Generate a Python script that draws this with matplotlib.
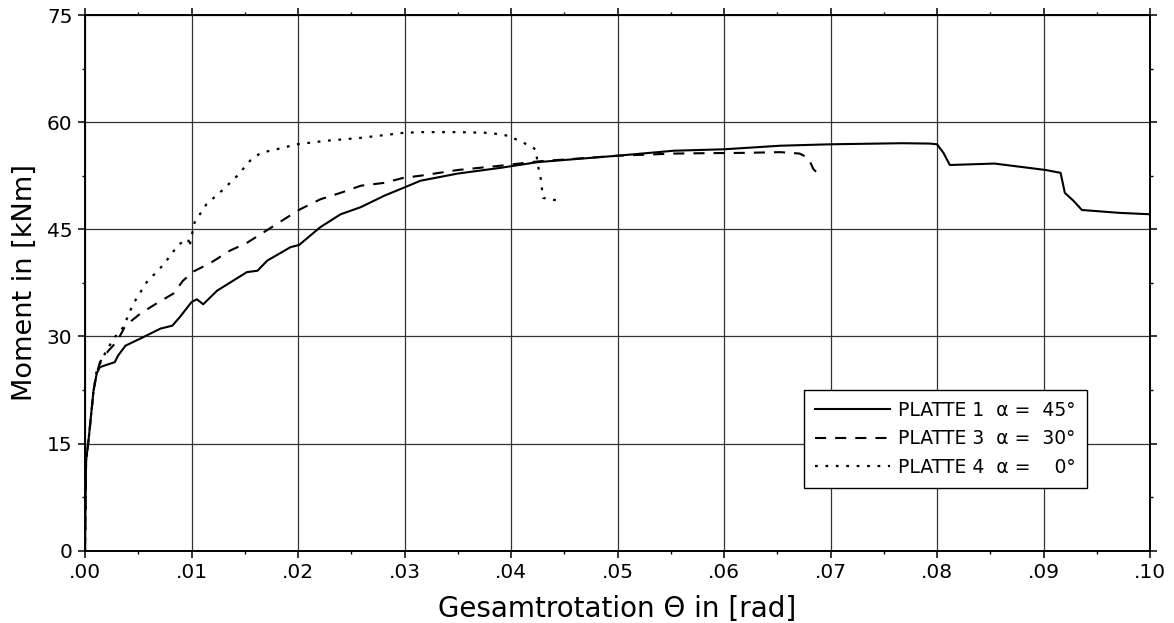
import matplotlib
matplotlib.use("Agg")
import matplotlib.pyplot as plt
from matplotlib.ticker import MultipleLocator, FuncFormatter

# ---- data ----
p1_x = [0, 0.0001, 0.0003, 0.0008, 0.0011, 0.0014, 0.0028, 0.0031, 0.0038, 0.0052, 0.0071,
        0.0082, 0.0089, 0.0100, 0.0105, 0.0111, 0.0124, 0.0152, 0.0162, 0.0171, 0.0193,
        0.0201, 0.0221, 0.0240, 0.0259, 0.0281, 0.0299, 0.0315, 0.0350, 0.0390, 0.0425,
        0.0500, 0.0553, 0.0600, 0.0653, 0.0700, 0.0767, 0.0793, 0.0800, 0.0806, 0.0812,
        0.0854, 0.0902, 0.0916, 0.0920, 0.0928, 0.0936, 0.0971, 0.1000]
p1_y = [0, 12.6, 15.0, 22.4, 24.8, 25.7, 26.4, 27.3, 28.7, 29.7, 31.1,
        31.5, 32.7, 34.8, 35.2, 34.5, 36.4, 39.0, 39.2, 40.6, 42.5,
        42.8, 45.3, 47.1, 48.1, 49.7, 50.8, 51.8, 52.8, 53.6, 54.4,
        55.3, 56.0, 56.2, 56.7, 56.9, 57.05, 57.0, 56.9, 55.7, 54.0,
        54.2, 53.3, 52.9, 50.1, 49.0, 47.7, 47.3, 47.1]

p3_x = [0, 0.0001, 0.0003, 0.0008, 0.0011, 0.0014, 0.0022, 0.0030, 0.0038, 0.0052, 0.0067,
        0.0083, 0.0092, 0.0102, 0.0118, 0.0136, 0.0152, 0.0168, 0.0187, 0.0202, 0.0221,
        0.0240, 0.0259, 0.0281, 0.0299, 0.0315, 0.0350, 0.0390, 0.0425, 0.0500, 0.0553,
        0.0579, 0.0619, 0.0653, 0.0671, 0.0679, 0.0684, 0.0689]
p3_y = [0, 12.6, 15.0, 22.4, 24.8, 26.4, 28.0, 29.3, 31.5, 33.2, 34.6,
        36.0, 37.8, 39.1, 40.3, 42.0, 43.1, 44.6, 46.4, 47.8, 49.2,
        50.1, 51.1, 51.5, 52.2, 52.5, 53.3, 53.9, 54.5, 55.3, 55.6,
        55.65, 55.7, 55.8, 55.6, 55.0, 53.4, 52.7]

p4_x = [0, 0.0001, 0.0003, 0.0008, 0.0011, 0.0020, 0.0028, 0.0036, 0.0045, 0.0058, 0.0074,
        0.0088, 0.0097, 0.0098, 0.0100, 0.0103, 0.0114, 0.0130, 0.0143, 0.0155, 0.0165,
        0.0180, 0.0199, 0.0227, 0.0259, 0.0299, 0.0315, 0.0350, 0.0380, 0.0397, 0.0412,
        0.0423, 0.0426, 0.0428, 0.0430, 0.0441, 0.0449]
p4_y = [0, 12.6, 15.0, 22.4, 25.2, 28.0, 29.9, 31.3, 34.5, 37.6, 40.1,
        42.9, 43.6, 42.5, 44.0, 46.0, 48.5, 50.6, 52.5, 54.6, 55.7,
        56.2, 56.9, 57.4, 57.8, 58.5, 58.6, 58.6, 58.5, 58.1, 57.1,
        56.2, 53.4, 52.0, 49.4, 49.1, 48.9]

labels = ["PLATTE 1  \u03b1 =  45\u00b0", "PLATTE 3  \u03b1 =  30\u00b0", "PLATTE 4  \u03b1 =    0\u00b0"]
x_label = "Gesamtrotation \u0398 in [rad]"
y_label = "Moment in [kNm]"

plt.rcParams['font.family'] = ['DejaVu Sans']
plt.rcParams['lines.scale_dashes'] = False

fig = plt.figure(figsize=(11.74, 6.23), dpi=100)
ax = fig.add_axes([0.0724, 0.1161, 0.9072, 0.8598])

ax.plot(p1_x, p1_y, color='black', lw=1.5, ls='-', label=labels[0])
ax.plot(p3_x, p3_y, color='black', lw=1.5, ls=(0, (8, 6.5)), label=labels[1])
ax.plot(p4_x, p4_y, color='black', lw=1.6, ls=(0, (2, 5.5)), label=labels[2])

ax.set_xlim(0, 0.1)
ax.set_ylim(0, 75)
ax.xaxis.set_major_locator(MultipleLocator(0.01))
ax.xaxis.set_minor_locator(MultipleLocator(0.005))
ax.yaxis.set_major_locator(MultipleLocator(15))
ax.yaxis.set_minor_locator(MultipleLocator(7.5))
ax.xaxis.set_major_formatter(FuncFormatter(lambda v, p: ("%.2f" % v)[1:] if v < 0.095 else ".10"))
ax.grid(True, which='major', color='#333333', lw=0.9)
ax.tick_params(which='major', direction='out', length=5, width=1.1, top=True, right=True,
               labelsize=14.5, pad=4)
ax.tick_params(which='minor', direction='out', length=2.5, width=1.0, top=True, right=True)
for s in ax.spines.values():
    s.set_linewidth(1.4)

ax.set_xlabel(x_label, fontsize=20)
ax.xaxis.set_label_coords(0.5, -0.083)
ax.set_ylabel(y_label, fontsize=19.5)
ax.yaxis.set_label_coords(-0.044, 0.5)

leg = ax.legend(loc='lower left', bbox_to_anchor=(0.675, 0.117), borderaxespad=0,
                fontsize=13.5, handlelength=4.0, handletextpad=0.4, labelspacing=0.5,
                frameon=True, fancybox=False, edgecolor='black', framealpha=1,
                borderpad=0.6)
leg.get_frame().set_linewidth(1.0)

fig.savefig("out.png", dpi=100)
